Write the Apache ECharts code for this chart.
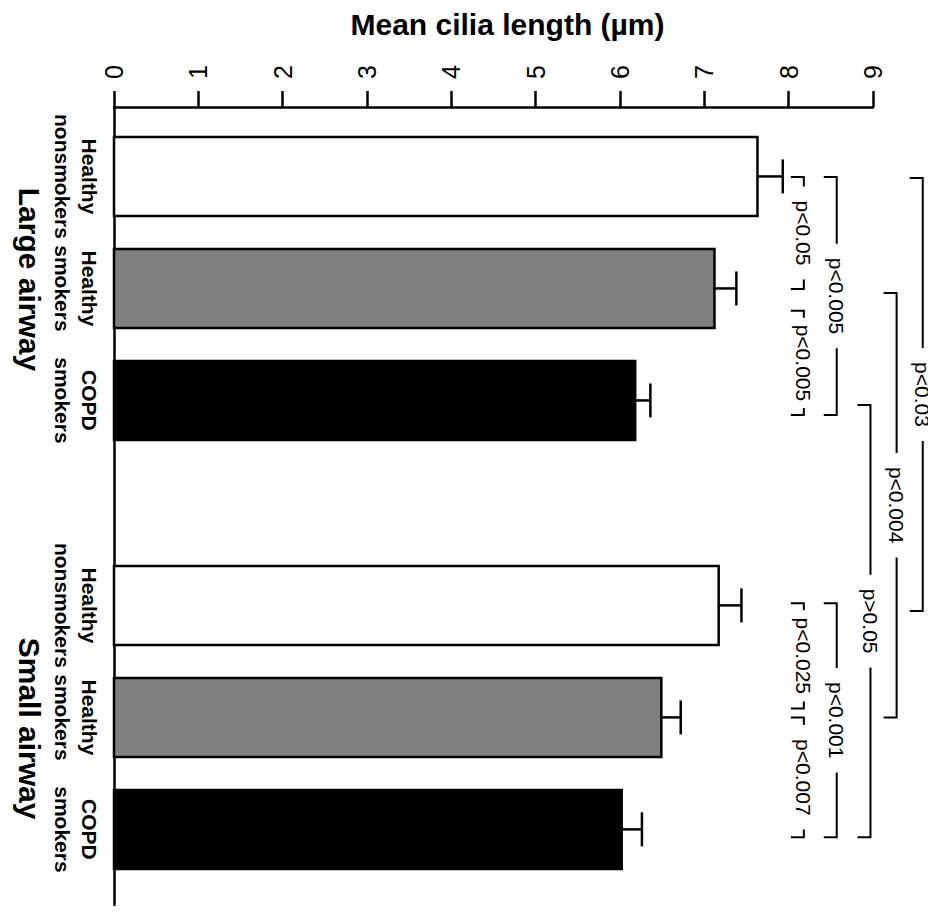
<!DOCTYPE html>
<html>
<head>
<meta charset="utf-8">
<script src="https://cdn.jsdelivr.net/npm/echarts@6/dist/echarts.min.js"></script>
<style>
html,body{margin:0;padding:0;background:#fff;}
#chart{width:928px;height:912px;}
</style>
</head>
<body>
<div id="chart"></div>
<script>
// ---------- data ----------
const categories = ['Healthy\nnonsmokers', 'Healthy\nsmokers', 'COPD\nsmokers',
                    'Healthy\nnonsmokers', 'Healthy\nsmokers', 'COPD\nsmokers'];
const groups = ['Large airway', 'Small airway'];
const categorySlots = [0.62, 1.62, 2.62, 4.45, 5.45, 6.45];   // position of each bar along the category axis (slot units)
const groupSlots = [1.54, 5.55];
const meanLength = [7.63, 7.12, 6.18, 7.17, 6.49, 6.02];
const semLength = [0.30, 0.26, 0.18, 0.27, 0.23, 0.24];
const tickLabels = ['0', '1', '2', '3', '4', '5', '6', '7', '8', '9'];
const axisTitle = 'Mean cilia length (µm)';

// significance brackets
const bracketLabels = ['p<0.05', 'p<0.005', 'p<0.005', 'p<0.03', 'p<0.004', 'p>0.05', 'p<0.025', 'p<0.007', 'p<0.001'];
const bracketFrom   = [0.625, 1.82, 0.625, 0.634, 1.66, 2.66, 4.43, 5.45, 4.43];
const bracketTo     = [1.625, 2.75, 2.75, 4.50, 5.45, 6.52, 5.37, 6.52, 6.52];
const bracketLevel  = [8.18, 8.18, 8.57, 9.59, 9.28, 8.97, 8.18, 8.18, 8.57];

// ---------- style ----------
const FONT = '"Liberation Sans", Arial, Helvetica, sans-serif';
const barFill = ['#ffffff', '#808080', '#000000'];
const BAR_PX = 79;
const CAP_HALF = 17;
const BR_TICK = 13;
const BR_PAD = 14;
const BR_MIN_SEG = 7;
const BR_FONT = 21;

const measureCtx = document.createElement('canvas').getContext('2d');
function textWidth(t, size, weight) {
  measureCtx.font = (weight || 'normal') + ' ' + size + 'px ' + FONT;
  return measureCtx.measureText(t).width;
}

const chart = echarts.init(document.getElementById('chart'), null, {renderer: 'svg'});

const option = {
  backgroundColor: '#ffffff',
  animation: false,
  grid: {left: 114, right: 55, top: 107, bottom: 7, containLabel: false, outerBoundsMode: 'none'},
  xAxis: {
    type: 'value', position: 'top', min: 0, max: 9, interval: 1,
    axisLine: {show: true, onZero: false, lineStyle: {color: '#000', width: 2.5}},
    axisTick: {show: true, length: 16, lineStyle: {color: '#000', width: 2.5}},
    splitLine: {show: false},
    axisLabel: {
      rotate: -90, margin: 28, fontSize: 25, color: '#000', fontFamily: FONT,
      formatter: v => tickLabels[Math.round(v)]
    },
    name: axisTitle, nameLocation: 'middle', nameGap: 68,
    nameTextStyle: {fontSize: 30, fontWeight: 'bold', color: '#000', fontFamily: FONT, padding: [0, 0, 0, 28]}
  },
  yAxis: {
    type: 'value', inverse: true, min: 0, max: 7.125,
    axisLine: {show: true, onZero: false, lineStyle: {color: '#000', width: 2.5}},
    axisTick: {show: false}, axisLabel: {show: false}, splitLine: {show: false}
  },
  series: [
    {
      type: 'custom', name: 'bars', clip: false,
      data: meanLength.map((v, i) => [v, categorySlots[i], semLength[i], i]),
      encode: {x: 0, y: 1},
      renderItem: function (params, api) {
        const v = api.value(0), p = api.value(1), e = api.value(2), i = api.value(3);
        const s = api.coord([0, p]);
        const end = api.coord([v, p]);
        const ee = api.coord([v + e, p]);
        const ls = {stroke: '#000', lineWidth: 2.5, fill: 'none'};
        return {
          type: 'group', children: [
            {type: 'line', shape: {x1: end[0], y1: end[1], x2: ee[0], y2: end[1]}, style: ls},
            {type: 'line', shape: {x1: ee[0], y1: end[1] - CAP_HALF, x2: ee[0], y2: end[1] + CAP_HALF}, style: ls},
            {type: 'rect', shape: {x: s[0], y: s[1] - BAR_PX / 2, width: end[0] - s[0], height: BAR_PX},
             style: {fill: barFill[i % 3], stroke: '#000', lineWidth: 2.5}}
          ]
        };
      }
    },
    {
      type: 'custom', name: 'categoryLabels', clip: false, silent: true,
      data: categories.map((c, i) => [0, categorySlots[i], i]),
      encode: {x: 0, y: 1},
      renderItem: function (params, api) {
        const pt = api.coord([0, api.value(1)]);
        return {
          type: 'text', x: pt[0] - 38, y: pt[1], rotation: -Math.PI / 2,
          style: {text: categories[api.value(2)], fill: '#000', fontSize: 21, fontWeight: 'bold', fontFamily: FONT,
                  align: 'center', verticalAlign: 'middle', lineHeight: 27}
        };
      }
    },
    {
      type: 'custom', name: 'groupLabels', clip: false, silent: true,
      data: groups.map((g, i) => [0, groupSlots[i], i]),
      encode: {x: 0, y: 1},
      renderItem: function (params, api) {
        const pt = api.coord([0, api.value(1)]);
        return {
          type: 'text', x: pt[0] - 85, y: pt[1], rotation: -Math.PI / 2,
          style: {text: groups[api.value(2)], fill: '#000', fontSize: 30, fontWeight: 'bold', fontFamily: FONT,
                  align: 'center', verticalAlign: 'middle'}
        };
      }
    },
    {
      type: 'custom', name: 'brackets', clip: false, silent: true,
      data: bracketLabels.map((l, i) => [bracketLevel[i], bracketFrom[i], bracketTo[i], i]),
      encode: {x: 0, y: [1, 2]},
      renderItem: function (params, api) {
        const lvl = api.value(0), i = api.value(3);
        const a = api.coord([lvl, api.value(1)]);
        const b = api.coord([lvl, api.value(2)]);
        const x = a[0], y1 = a[1], y2 = b[1], mid = (y1 + y2) / 2;
        const label = bracketLabels[i];
        const w = textWidth(label, BR_FONT);
        const ls = {stroke: '#000', lineWidth: 2, fill: 'none'};
        const g1 = Math.max(mid - w / 2 - BR_PAD, y1 + BR_MIN_SEG);
        const g2 = Math.min(mid + w / 2 + BR_PAD, y2 - BR_MIN_SEG);
        const ch = [
          {type: 'polyline', shape: {points: [[x - BR_TICK, y1], [x, y1], [x, g1]]}, style: ls},
          {type: 'polyline', shape: {points: [[x - BR_TICK, y2], [x, y2], [x, g2]]}, style: ls},
          {type: 'text', x: x, y: mid, rotation: -Math.PI / 2,
           style: {text: label, fill: '#000', fontSize: BR_FONT, fontFamily: FONT, align: 'center', verticalAlign: 'middle'}}
        ];
        return {type: 'group', children: ch};
      }
    }
  ]
};
chart.setOption(option);
</script>
</body>
</html>
